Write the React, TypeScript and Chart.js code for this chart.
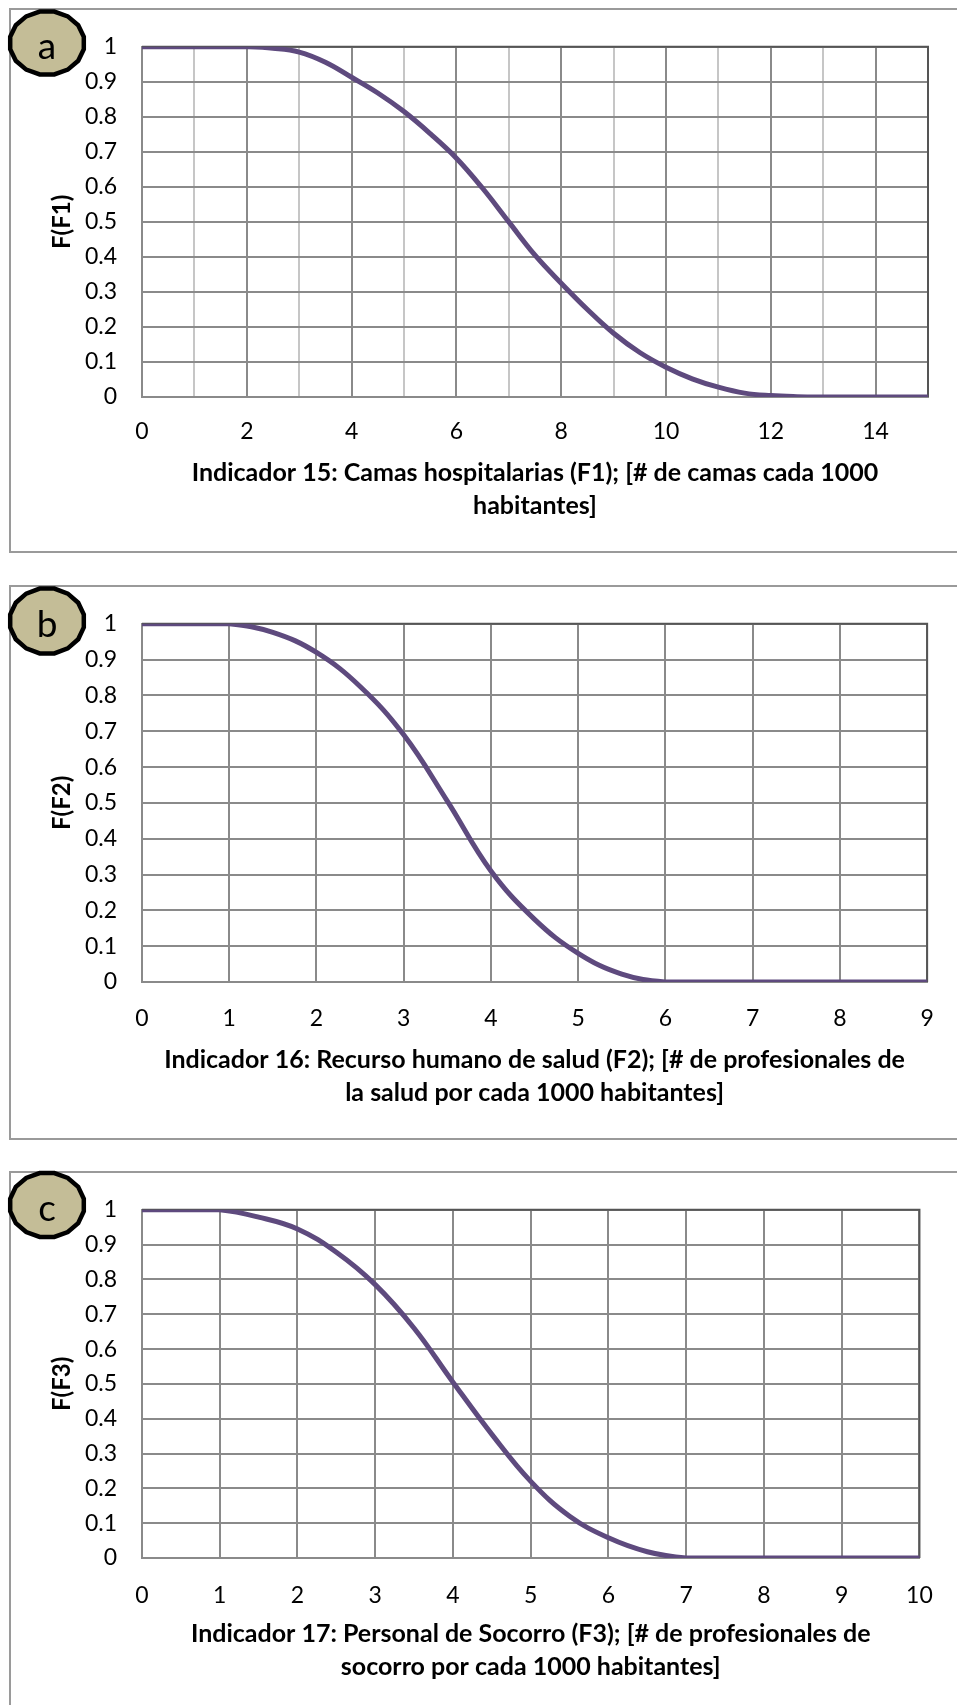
import { useEffect, useRef } from 'react';
import { Chart, registerables } from 'chart.js';

Chart.register(...registerables);

// Indicador 15: camas hospitalarias (F1)
const xF1 = [0, 0.5, 1, 1.5, 2, 2.5, 3, 3.5, 4, 4.5, 5, 5.5, 6, 6.5, 7, 7.5, 8, 8.5, 9, 9.5, 10, 10.5, 11, 11.5, 12, 12.5, 13, 13.5, 14, 14.5, 15];
const yF1 = [1, 1, 1, 1, 1, 0.996, 0.985, 0.956, 0.913, 0.868, 0.815, 0.752, 0.682, 0.596, 0.5, 0.405, 0.325, 0.25, 0.182, 0.127, 0.085, 0.052, 0.028, 0.011, 0.004, 0.001, 0, 0, 0, 0, 0];

// Indicador 16: recurso humano de salud (F2)
const xF2 = [0, 0.5, 1, 1.5, 2, 2.5, 3, 3.5, 4, 4.5, 5, 5.5, 6, 6.5, 7, 7.5, 8, 8.5, 9];
const yF2 = [1, 1, 1, 0.976, 0.92, 0.825, 0.69, 0.505, 0.31, 0.175, 0.08, 0.022, 0, 0, 0, 0, 0, 0, 0];

// Indicador 17: personal de socorro (F3)
const xF3 = [0, 0.5, 1, 1.5, 2, 2.5, 3, 3.5, 4, 4.5, 5, 5.5, 6, 6.5, 7, 7.5, 8, 8.5, 9, 9.5, 10];
const yF3 = [1, 1, 1, 0.979, 0.945, 0.878, 0.785, 0.66, 0.505, 0.355, 0.22, 0.12, 0.058, 0.018, 0, 0, 0, 0, 0, 0, 0];

const titleF1 = ['Indicador 15: Camas hospitalarias (F1); [# de camas cada 1000', 'habitantes]'];
const titleF2 = ['Indicador 16: Recurso humano de salud (F2); [# de profesionales de', 'la salud por cada 1000 habitantes]'];
const titleF3 = ['Indicador 17: Personal de Socorro (F3); [# de profesionales de', 'socorro por cada 1000 habitantes]'];

const PAGE_W = 957;
const FAMILY = 'Lato, "Open Sans", sans-serif';
const CURVE = '#5E4A7E';
const GRID = '#8a8a8a';
const GRID_LIGHT = '#c6c6c6';
const FRAME = '#555555';

type PanelProps = {
  letter: string;
  xs: number[];
  ys: number[];
  xMax: number;
  labelEvery: number;
  lightOdd: boolean;
  yTitle: string;
  xTitle: string[];
  boxTop: number;
  boxH: number;
  bottomBorder: boolean;
  plot: { t: number; b: number; l: number; r: number };
  tickY: number;
  titleY: number;
  badgeCy: number;
  badgeRy: number;
};

const TICK_SIZE = 23;
const TITLE_SIZE = 25;
const TITLE_LH = 33;
const YTITLE_SIZE = 24;

// draws the darker top and right edges of the plot area
const plotFrame = {
  id: 'plotFrame',
  beforeDatasetsDraw(chart: any) {
    const { ctx, chartArea } = chart;
    ctx.save();
    ctx.strokeStyle = FRAME;
    ctx.lineWidth = 2;
    ctx.beginPath();
    ctx.moveTo(chartArea.left, chartArea.top);
    ctx.lineTo(chartArea.right, chartArea.top);
    ctx.lineTo(chartArea.right, chartArea.bottom);
    ctx.stroke();
    ctx.restore();
  },
};

function badgePoints(cx: number, cy: number, rx: number, ry: number, n: number) {
  const pts: string[] = [];
  for (let i = 0; i < n; i++) {
    const a = (Math.PI * 2 * (i + 0.5)) / n;
    pts.push(`${(cx + rx * Math.cos(a)).toFixed(1)},${(cy + ry * Math.sin(a)).toFixed(1)}`);
  }
  return pts.join(' ');
}

function Panel(p: PanelProps) {
  const ref = useRef<HTMLCanvasElement | null>(null);

  useEffect(() => {
    if (!ref.current) return;
    const tickLH = TICK_SIZE * 1.2;
    const chart = new Chart(ref.current, {
      type: 'line',
      data: {
        datasets: [
          {
            data: p.xs.map((x, i) => ({ x, y: p.ys[i] })),
            borderColor: CURVE,
            borderWidth: 5,
            pointRadius: 0,
            fill: false,
            tension: 0.4,
            borderCapStyle: 'round',
            borderJoinStyle: 'round',
          },
        ],
      },
      options: {
        animation: false,
        responsive: false,
        devicePixelRatio: 1,
        layout: {
          padding: { top: p.plot.t - p.boxTop, right: PAGE_W - p.plot.r, left: 0, bottom: 0 },
        },
        plugins: { legend: { display: false }, tooltip: { enabled: false } },
        scales: {
          x: {
            type: 'linear',
            min: 0,
            max: p.xMax,
            afterFit: (s: any) => {
              s.height = p.boxH - (p.plot.b - p.boxTop);
            },
            ticks: {
              stepSize: 1,
              autoSkip: false,
              maxRotation: 0,
              padding: p.tickY - p.plot.b - tickLH / 2,
              color: '#000',
              font: { family: FAMILY, size: TICK_SIZE },
              callback: (v: any) => (Number(v) % p.labelEvery === 0 ? String(v) : ''),
            },
            grid: {
              drawTicks: false,
              lineWidth: 2,
              color: (c: any) => (p.lightOdd && c.tick && c.tick.value % 2 === 1 ? GRID_LIGHT : GRID),
            },
            border: { display: true, color: GRID, width: 2 },
            title: {
              display: true,
              text: p.xTitle,
              color: '#000',
              font: { family: FAMILY, size: TITLE_SIZE, weight: 'bold', lineHeight: `${TITLE_LH}px` },
              padding: { top: 0, bottom: p.boxH - (p.titleY - p.boxTop) - TITLE_LH / 2 },
            },
          },
          y: {
            type: 'linear',
            min: 0,
            max: 1,
            afterFit: (s: any) => {
              s.width = p.plot.l;
            },
            ticks: {
              stepSize: 0.1,
              padding: 25,
              color: '#000',
              font: { family: FAMILY, size: TICK_SIZE },
              callback: (v: any) => String(Math.round(Number(v) * 10) / 10),
            },
            grid: { drawTicks: false, lineWidth: 2, color: GRID },
            border: { display: true, color: GRID, width: 2 },
            title: {
              display: true,
              text: p.yTitle,
              color: '#000',
              font: { family: FAMILY, size: YTITLE_SIZE, weight: 'bold', lineHeight: 1.2 },
              padding: { top: 62 - (YTITLE_SIZE * 1.2) / 2, bottom: 0 },
            },
          },
        },
      },
      plugins: [plotFrame],
    } as any);
    return () => chart.destroy();
  }, []);

  const bw = 86;
  const bh = 78;
  return (
    <>
      <div
        style={{
          position: 'fixed',
          left: 9,
          top: p.boxTop,
          width: PAGE_W - 9,
          height: p.boxH,
          boxSizing: 'border-box',
          borderLeft: '2px solid #9a9a9a',
          borderTop: '2px solid #9a9a9a',
          borderBottom: p.bottomBorder ? '2px solid #9a9a9a' : 'none',
          background: '#fff',
        }}
      />
      <canvas
        ref={ref}
        width={PAGE_W}
        height={p.boxH}
        style={{ position: 'fixed', left: 0, top: p.boxTop, width: PAGE_W, height: p.boxH }}
      />
      <svg
        width={bw}
        height={bh}
        style={{ position: 'fixed', left: 47 - bw / 2, top: p.badgeCy - bh / 2, overflow: 'visible' }}
      >
        <polygon
          points={badgePoints(bw / 2, bh / 2, 37.5, p.badgeRy, 16)}
          fill="#C4BD97"
          stroke="#000"
          strokeWidth={4.5}
          strokeLinejoin="miter"
        />
        <text
          x={bw / 2}
          y={bh / 2 + 1}
          textAnchor="middle"
          dominantBaseline="central"
          fontFamily={FAMILY}
          fontSize={37}
          fill="#000"
        >
          {p.letter}
        </text>
      </svg>
    </>
  );
}

export default function App() {
  useEffect(() => {
    document.documentElement.style.overflow = 'hidden';
  }, []);
  return (
    <div>
      <Panel
        letter="a"
        xs={xF1}
        ys={yF1}
        xMax={15}
        labelEvery={2}
        lightOdd={true}
        yTitle="F(F1)"
        xTitle={titleF1}
        boxTop={8}
        boxH={545}
        bottomBorder={true}
        plot={{ t: 38, b: 397, l: 142, r: 928 }}
        tickY={432}
        titleY={506}
        badgeCy={43}
        badgeRy={32}
      />
      <Panel
        letter="b"
        xs={xF2}
        ys={yF2}
        xMax={9}
        labelEvery={1}
        lightOdd={false}
        yTitle="F(F2)"
        xTitle={titleF2}
        boxTop={585}
        boxH={555}
        bottomBorder={true}
        plot={{ t: 616, b: 982, l: 142, r: 935 }}
        tickY={1019}
        titleY={1093}
        badgeCy={621}
        badgeRy={33}
      />
      <Panel
        letter="c"
        xs={xF3}
        ys={yF3}
        xMax={10}
        labelEvery={1}
        lightOdd={false}
        yTitle="F(F3)"
        xTitle={titleF3}
        boxTop={1171}
        boxH={534}
        bottomBorder={false}
        plot={{ t: 1202, b: 1558, l: 142, r: 929 }}
        tickY={1596}
        titleY={1667}
        badgeCy={1205}
        badgeRy={32.5}
      />
    </div>
  );
}
